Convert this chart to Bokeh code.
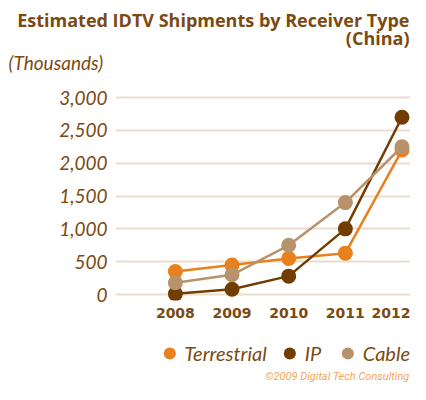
from bokeh.plotting import figure
from bokeh.layouts import column
from bokeh.models import (Range1d, Legend, LegendItem, FixedTicker, NumeralTickFormatter,
                          CustomJSTickFormatter, Label, Title)
from bokeh.embed import file_html
from bokeh.resources import INLINE

years = [2008, 2009, 2010, 2011, 2012]
terrestrial = [350, 450, 550, 630, 2200]
ip = [10, 80, 280, 1000, 2700]
cable = [180, 300, 750, 1400, 2250]
y_ticks = [0, 500, 1000, 1500, 2000, 2500, 3000]
series_names = ["Terrestrial", "IP", "Cable"]

title1 = "Estimated IDTV Shipments by Receiver Type"
title2 = "(China)"
unit_label = "(Thousands)"
credit = "\u00a92009 Digital Tech Consulting"

C_TER = "#E8801E"
C_IP = "#713D02"
C_CAB = "#B8926A"
TXT = "#7B4A12"
GRID = "#EBDDCE"
CREDIT = "#F2A65A"
W = 410
LEFT = 115

# ---- main chart ----
p = figure(width=W, height=320, output_backend="svg", toolbar_location=None, title=None,
           x_range=Range1d(2006.943, 2012.15), y_range=Range1d(-91, 3335),
           min_border_left=LEFT, min_border_right=0, min_border_top=75, min_border_bottom=20)
p.outline_line_color = None
p.xgrid.grid_line_color = None
p.ygrid.grid_line_color = GRID
p.ygrid.grid_line_width = 2

p.yaxis.ticker = FixedTicker(ticks=y_ticks)
p.yaxis.formatter = NumeralTickFormatter(format="0,0")
p.yaxis.axis_line_color = None
p.yaxis.major_tick_line_color = None
p.yaxis.minor_tick_line_color = None
p.yaxis.major_label_text_font = "Lato"
p.yaxis.major_label_text_font_style = "italic"
p.yaxis.major_label_text_font_size = "19px"
p.yaxis.major_label_text_color = TXT
p.yaxis.major_label_standoff = 2

p.xaxis.ticker = FixedTicker(ticks=years)
p.xaxis.formatter = CustomJSTickFormatter(code="return tick.toFixed(0);")
p.xaxis.axis_line_color = None
p.xaxis.major_tick_line_color = None
p.xaxis.minor_tick_line_color = None
p.xaxis.major_label_text_font = "DejaVu Sans"
p.xaxis.major_label_text_font_style = "bold"
p.xaxis.major_label_text_font_size = "14px"
p.xaxis.major_label_text_color = TXT
p.xaxis.major_label_standoff = 1

colors = [C_TER, C_IP, C_CAB]
series = [terrestrial, ip, cable]
for vals, col in zip(series, colors):
    p.line(years, vals, line_color=col, line_width=2.5)
    p.scatter(years, vals, size=15, fill_color=col, line_color=None)

p.add_layout(Title(text=unit_label, align="left", offset=-(LEFT - 8), text_font="Lato",
                   text_font_style="italic", text_font_size="19px", text_color=TXT,
                   standoff=4), "above")
p.add_layout(Title(text=title2, align="right", offset=1, text_font="Open Sans",
                   text_font_style="bold", text_font_size="18px", text_color=TXT,
                   standoff=-6), "above")
p.add_layout(Title(text=title1, align="right", offset=1, text_font="Open Sans",
                   text_font_style="bold", text_font_size="18px", text_color=TXT,
                   standoff=-11), "above")

# ---- footer: legend + credit ----
bot = figure(width=W, height=64, output_backend="svg", toolbar_location=None,
             x_range=Range1d(LEFT, W), y_range=Range1d(384, 338),
             min_border_left=LEFT, min_border_right=0, min_border_top=18, min_border_bottom=0)
bot.axis.visible = False
bot.grid.visible = False
bot.outline_line_color = None
items = []
for name, vals, col in zip(series_names, series, colors):
    # the series drawn here fall outside this strip's ranges; they only feed the legend glyphs
    r = bot.scatter(years, vals, size=13, fill_color=col, line_color=None)
    items.append(LegendItem(label=name, renderers=[r]))
legend = Legend(items=items, orientation="horizontal", location="top_right",
                glyph_width=30, glyph_height=30, label_standoff=0, spacing=8,
                label_text_font="Lato", label_text_font_style="italic",
                label_text_font_size="20px", label_text_color=TXT,
                background_fill_alpha=0, border_line_color=None, padding=0, margin=0)
bot.add_layout(legend)
bot.add_layout(Label(x=W - 1, y=376, text=credit, text_font="Roboto", text_font_style="italic",
                     text_font_size="11px", text_color=CREDIT, text_align="right",
                     text_baseline="middle"))

layout = column(p, bot, spacing=0)
open("out.html", "w").write(file_html(layout, INLINE))
